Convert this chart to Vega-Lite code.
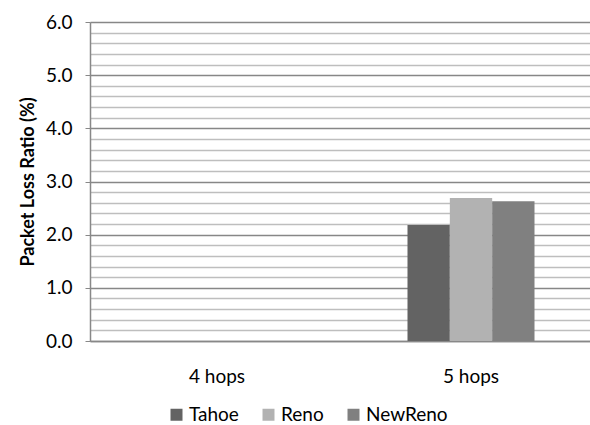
{
  "$schema": "https://vega.github.io/schema/vega-lite/v6.json",
  "autosize": "none",
  "width": 508,
  "height": 319,
  "padding": {"left": 90, "top": 22, "right": 0, "bottom": 84},
  "background": "white",
  "config": {
    "font": "Lato",
    "view": {"stroke": null}
  },
  "data": {
    "values": [
      {"hops": "4 hops", "protocol": "Tahoe", "ratio": 0},
      {"hops": "4 hops", "protocol": "Reno", "ratio": 0},
      {"hops": "4 hops", "protocol": "NewReno", "ratio": 0},
      {"hops": "5 hops", "protocol": "Tahoe", "ratio": 2.18},
      {"hops": "5 hops", "protocol": "Reno", "ratio": 2.69},
      {"hops": "5 hops", "protocol": "NewReno", "ratio": 2.63}
    ]
  },
  "mark": {"type": "bar"},
  "encoding": {
    "x": {
      "field": "hops",
      "type": "nominal",
      "scale": {"paddingInner": 0.5, "paddingOuter": 0.25},
      "axis": {
        "title": null,
        "labelAngle": 0,
        "labelFontSize": 19,
        "labelColor": "#000000",
        "labelPadding": 26,
        "ticks": false,
        "domainColor": "#888888",
        "domainWidth": 1.5
      }
    },
    "xOffset": {
      "field": "protocol",
      "type": "nominal",
      "sort": ["Tahoe", "Reno", "NewReno"],
      "scale": {"paddingInner": 0, "paddingOuter": 0}
    },
    "y": {
      "field": "ratio",
      "type": "quantitative",
      "scale": {"domain": [0, 6], "nice": false},
      "axis": {
        "title": "Packet Loss Ratio (%)",
        "titleFontSize": 18,
        "titleFontWeight": "bold",
        "titleColor": "#000000",
        "titlePadding": 8,
        "values": [0, 0.2, 0.4, 0.6, 0.8, 1, 1.2, 1.4, 1.6, 1.8, 2, 2.2, 2.4, 2.6, 2.8, 3, 3.2, 3.4, 3.6, 3.8, 4, 4.2, 4.4, 4.6, 4.8, 5, 5.2, 5.4, 5.6, 5.8, 6],
        "labelExpr": "abs(datum.value - round(datum.value)) < 0.001 ? format(datum.value, '.1f') : ''",
        "labelFontSize": 19,
        "labelColor": "#000000",
        "labelPadding": 13,
        "tickSize": 5,
        "tickColor": "#888888",
        "tickOpacity": {"condition": {"test": "abs(datum.value - round(datum.value)) < 0.001", "value": 1}, "value": 0},
        "grid": true,
        "gridColor": {"condition": {"test": "abs(datum.value - round(datum.value)) < 0.001", "value": "#878787"}, "value": "#bebebe"},
        "gridWidth": 1.3,
        "domainColor": "#888888",
        "domainWidth": 1.5
      }
    },
    "color": {
      "field": "protocol",
      "type": "nominal",
      "sort": ["Tahoe", "Reno", "NewReno"],
      "scale": {"domain": ["Tahoe", "Reno", "NewReno"], "range": ["#636363", "#b2b2b2", "#808080"]},
      "legend": {
        "title": null,
        "orient": "none",
        "legendX": 77,
        "legendY": 383,
        "direction": "horizontal",
        "symbolType": "square",
        "symbolSize": 144,
        "symbolStrokeWidth": 0,
        "labelFontSize": 19,
        "labelColor": "#000000",
        "columnPadding": 20,
        "labelOffset": 3
      }
    }
  }
}
